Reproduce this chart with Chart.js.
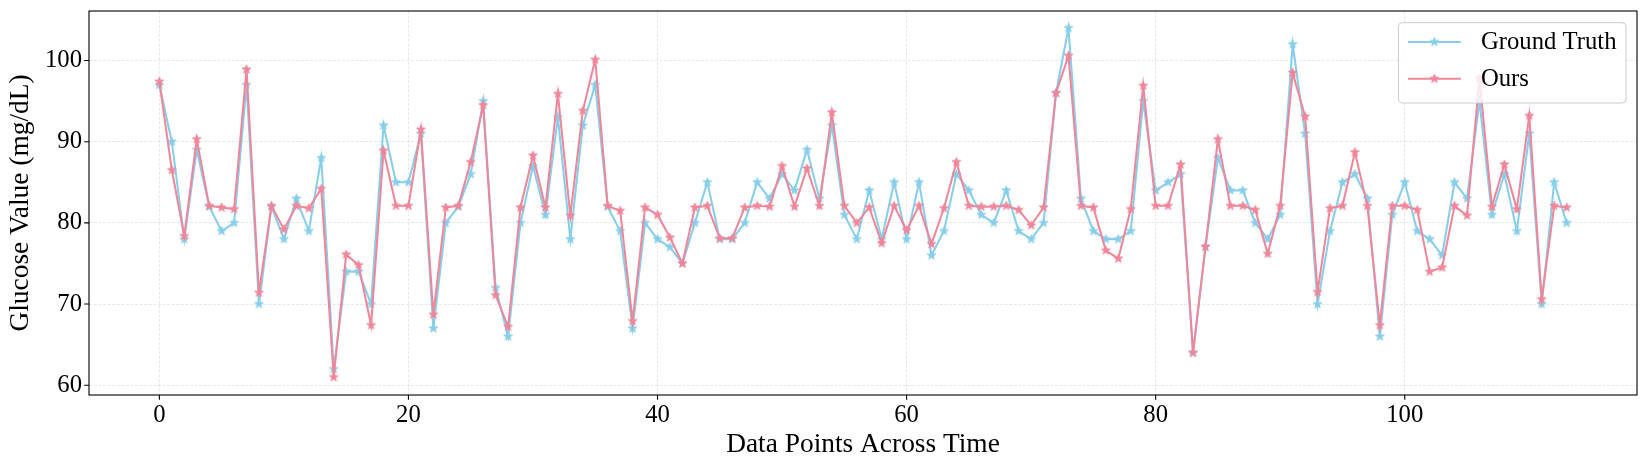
<!DOCTYPE html>
<html>
<head>
<meta charset="utf-8">
<script src="https://cdn.jsdelivr.net/npm/chart.js@4/dist/chart.umd.min.js"></script>
<style>
  body { margin: 0; background: #fff; }
  canvas { display: block; }
</style>
</head>
<body>
<canvas id="glucose" width="1648" height="470"></canvas>
<script>
'use strict';

// readings, one per time step 0..113
var groundTruth = [
  97, 90, 78, 89, 82, 79, 80, 97, 70, 82, 78, 83, 79, 88, 62, 74, 74, 70, 92, 85,
  85, 91, 67, 80, 82, 86, 95, 72, 66, 80, 87, 81, 93, 78, 92, 97, 82, 79, 67, 80,
  78, 77, 75, 80, 85, 78, 78, 80, 85, 83, 86, 84, 89, 83, 92, 81, 78, 84, 78, 85,
  78, 85, 76, 79, 86, 84, 81, 80, 84, 79, 78, 80, 96, 104, 83, 79, 78, 78, 79, 95,
  84, 85, 86, 64, 77, 88, 84, 84, 80, 78, 81, 102, 91, 70, 79, 85, 86, 83, 66, 81,
  85, 79, 78, 76, 85, 83, 95, 81, 86, 79, 91, 70, 85, 80
];
var ours = [
  97.4, 86.5, 78.4, 90.3, 82.1, 81.9, 81.7, 98.9, 71.4, 82.1, 79.2, 82.1, 81.8, 84.2, 61.0, 76.1, 74.8, 67.4, 88.9, 82.1,
  82.1, 91.5, 68.7, 81.9, 82.1, 87.5, 94.5, 71.1, 67.2, 81.9, 88.3, 81.9, 95.9, 80.9, 93.8, 100.1, 82.1, 81.5, 67.9, 81.9,
  81.0, 78.2, 75.0, 81.9, 82.1, 78.1, 78.1, 81.9, 82.1, 82.0, 87.0, 82.0, 86.7, 82.1, 93.6, 82.1, 80.0, 81.9, 77.5, 82.1,
  79.1, 82.1, 77.4, 81.8, 87.5, 82.1, 82.0, 82.0, 82.1, 81.6, 79.7, 81.9, 96.0, 100.6, 82.1, 81.9, 76.6, 75.6, 81.7, 96.9,
  82.1, 82.1, 87.2, 64.0, 77.1, 90.3, 82.1, 82.1, 81.6, 76.2, 82.1, 98.5, 93.1, 71.5, 81.8, 82.1, 88.7, 82.1, 67.4, 82.1,
  82.1, 81.6, 74.0, 74.5, 82.1, 80.9, 97.8, 82.0, 87.2, 81.7, 93.2, 70.6, 82.1, 81.9
];
var seriesNames = ['Ground Truth', 'Ours'];
var xTicks = [0, 20, 40, 60, 80, 100];
var yTicks = [60, 70, 80, 90, 100];

var BLUE = '#87CEEB';
var PINK = '#F0869A';
var FONT = "'Liberation Serif', 'Times New Roman', serif";

function makeStar(color) {
  var c = document.createElement('canvas');
  c.width = 13;
  c.height = 13;
  var g = c.getContext('2d');
  var outer = 4.6, inner = 1.8, cx = 6.5, cy = 6.5;
  g.beginPath();
  for (var k = 0; k < 10; k++) {
    var r = k % 2 === 0 ? outer : inner;
    var a = -Math.PI / 2 + k * Math.PI / 5;
    var px = cx + r * Math.cos(a), py = cy + r * Math.sin(a);
    if (k === 0) g.moveTo(px, py); else g.lineTo(px, py);
  }
  g.closePath();
  g.fillStyle = color;
  g.strokeStyle = color;
  g.lineWidth = 1;
  g.fill();
  g.stroke();
  return c;
}

function toPoints(values) {
  var pts = [];
  for (var i = 0; i < values.length; i++) {
    pts.push({ x: i, y: values[i] });
  }
  return pts;
}

var colors = [BLUE, PINK];
var stars = [makeStar(BLUE), makeStar(PINK)];

// frame, black tick marks and a matplotlib style legend box
var framePlugin = {
  id: 'frame',
  afterDraw: function(chart) {
    var ctx = chart.ctx;
    var area = chart.chartArea;
    var xs = chart.scales.x, ys = chart.scales.y;
    ctx.save();
    ctx.strokeStyle = '#000';
    ctx.lineWidth = 1.1;
    ctx.setLineDash([]);
    ctx.strokeRect(area.left, area.top, area.right - area.left, area.bottom - area.top);
    ctx.beginPath();
    xs.ticks.forEach(function(t) {
      var px = xs.getPixelForValue(t.value);
      ctx.moveTo(px, area.bottom);
      ctx.lineTo(px, area.bottom + 4.8);
    });
    ys.ticks.forEach(function(t) {
      var py = ys.getPixelForValue(t.value);
      ctx.moveTo(area.left, py);
      ctx.lineTo(area.left - 4.8, py);
    });
    ctx.stroke();

    // legend
    var fs = 24.7;
    ctx.font = fs + 'px ' + FONT;
    var maxW = 0;
    seriesNames.forEach(function(n) { maxW = Math.max(maxW, ctx.measureText(n).width); });
    var pad = 9.5, handle = 53, gap = 20;
    var w = pad + handle + gap + maxW + pad;
    var h = 80.3;
    var right = area.right - 11;
    var top = area.top + 11.7;
    var left = right - w;
    ctx.beginPath();
    ctx.roundRect(left, top, w, h, 4);
    ctx.fillStyle = 'rgba(255,255,255,0.8)';
    ctx.fill();
    ctx.strokeStyle = '#cccccc';
    ctx.lineWidth = 1;
    ctx.stroke();
    ctx.textBaseline = 'middle';
    ctx.textAlign = 'left';
    seriesNames.forEach(function(n, i) {
      var ry = top + 19.3 + i * 36.7;
      ctx.beginPath();
      ctx.strokeStyle = colors[i];
      ctx.lineWidth = 2.05;
      ctx.moveTo(left + pad, ry);
      ctx.lineTo(left + pad + handle, ry);
      ctx.stroke();
      ctx.drawImage(stars[i], left + pad + handle / 2 - 6.5, ry - 6.5);
      ctx.fillStyle = '#000';
      ctx.fillText(n, left + pad + handle + gap, ry + 1);
    });
    ctx.restore();
  }
};

Chart.defaults.font.family = FONT;
Chart.defaults.color = '#000';

var ctx = document.getElementById('glucose').getContext('2d');

var chart = new Chart(ctx, {
  type: 'line',
  data: {
    datasets: [
      {
        label: seriesNames[0],
        data: toPoints(groundTruth),
        borderColor: BLUE,
        backgroundColor: BLUE,
        borderWidth: 2.05,
        pointStyle: stars[0],
        order: 1
      },
      {
        label: seriesNames[1],
        data: toPoints(ours),
        borderColor: PINK,
        backgroundColor: PINK,
        borderWidth: 2.05,
        pointStyle: stars[1],
        order: 0
      }
    ]
  },
  options: {
    responsive: false,
    animation: false,
    layout: { padding: { top: 11, right: 11, left: 0, bottom: 0 } },
    elements: { line: { tension: 0 } },
    plugins: {
      legend: { display: false },
      tooltip: { enabled: false }
    },
    scales: {
      x: {
        type: 'linear',
        min: -5.65,
        max: 118.65,
        afterBuildTicks: function(scale) {
          scale.ticks = xTicks.map(function(v) { return { value: v }; });
        },
        afterFit: function(scale) {
          scale.height = 75;
          scale.paddingLeft = 0;
          scale.paddingRight = 0;
        },
        grid: { color: 'rgba(0,0,0,0.13)', lineWidth: 0.7, drawTicks: false },
        border: { display: false, dash: [3, 1.6] },
        ticks: { font: { size: 24.7 }, padding: 6, maxRotation: 0 },
        title: {
          display: true,
          text: 'Data Points Across Time',
          font: { size: 27.4 },
          padding: { top: 0, bottom: 8.9 }
        }
      },
      y: {
        min: 58.8,
        max: 106.1,
        afterBuildTicks: function(scale) {
          scale.ticks = yTicks.map(function(v) { return { value: v }; });
        },
        afterFit: function(scale) {
          scale.width = 89;
          scale.paddingTop = 0;
          scale.paddingBottom = 0;
        },
        grid: { color: 'rgba(0,0,0,0.13)', lineWidth: 0.7, drawTicks: false },
        border: { display: false, dash: [3, 1.6] },
        ticks: { font: { size: 24.7 }, padding: 7 },
        title: {
          display: true,
          text: 'Glucose Value (mg/dL)',
          font: { size: 27.4 },
          padding: { top: 4.3, bottom: 0 }
        }
      }
    }
  },
  plugins: [framePlugin]
});
</script>
</body>
</html>
